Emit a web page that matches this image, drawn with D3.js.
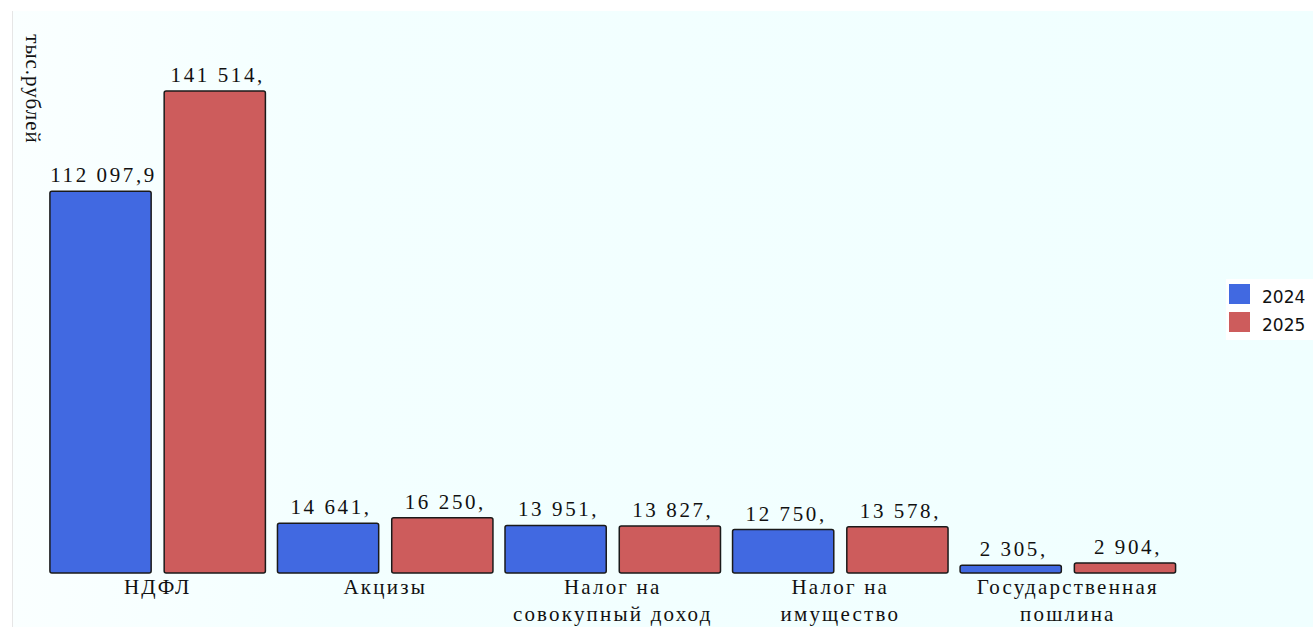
<!DOCTYPE html>
<html><head><meta charset="utf-8">
<script src="https://cdn.jsdelivr.net/npm/d3@7"></script>
<style>html,body{margin:0;padding:0;background:#fff;overflow:hidden}
.serif{font-family:"Liberation Serif","DejaVu Serif","Times New Roman",serif}</style>
</head><body>
<svg id="c" width="1313" height="627"></svg>
<script>
const categories = ["НДФЛ", "Акцизы", "Налог на совокупный доход", "Налог на имущество", "Государственная пошлина"];
const categoryLines = [["НДФЛ"], ["Акцизы"], ["Налог на", "совокупный доход"], ["Налог на", "имущество"], ["Государственная", "пошлина"]];
const seriesNames = ["2024", "2025"];
const values2024 = [112097.9, 14641, 13951, 12750, 2305];
const values2025 = [141514, 16250, 13827, 13578, 2904];
const labels2024 = ["112 097,9", "14 641,", "13 951,", "12 750,", "2 305,"];
const labels2025 = ["141 514,", "16 250,", "13 827,", "13 578,", "2 904,"];
const colors = ["#4169E1", "#CD5C5C"];

const svg = d3.select("#c");
const defs = svg.append("defs");
const grad = defs.append("linearGradient").attr("id","bg").attr("x1","0").attr("x2","1").attr("y1","0").attr("y2","0");
grad.append("stop").attr("offset","0").attr("stop-color","#FAFFFF");
grad.append("stop").attr("offset","0.25").attr("stop-color","#F3FFFF");
grad.append("stop").attr("offset","1").attr("stop-color","#F0FFFF");

svg.append("rect").attr("x",12).attr("y",11).attr("width",1301).attr("height",616).attr("fill","url(#bg)");
svg.append("line").attr("x1",12.5).attr("x2",12.5).attr("y1",11).attr("y2",627).attr("stroke","#e6e6e6").attr("stroke-width",1);

const x0 = d3.scaleBand().domain(categories).range([44, 1181.5]).paddingInner(0.053).paddingOuter(0.026);
const x1 = d3.scaleBand().domain(seriesNames).range([0, x0.bandwidth()]).paddingInner(0.114);
const y = d3.scaleLinear().domain([0, 165000]).range([573, 11]);

const data = categories.map((c,i)=>({cat:c, vals:[values2024[i], values2025[i]], labs:[labels2024[i], labels2025[i]]}));

const g = svg.append("g");
const groups = g.selectAll("g.grp").data(data).join("g").attr("class","grp")
  .attr("transform", d=>`translate(${x0(d.cat)},0)`);

groups.selectAll("rect").data(d=>d.vals.map((v,j)=>({v, s:seriesNames[j], j}))).join("rect")
  .attr("x", d=>x1(d.s)).attr("width", x1.bandwidth())
  .attr("y", d=>y(d.v)).attr("height", d=>y(0)-y(d.v))
  .attr("rx", 2).attr("fill", d=>colors[d.j])
  .attr("stroke", "#1a1a1a").attr("stroke-width", 1.5);

groups.selectAll("text.val").data(d=>d.vals.map((v,j)=>({v, s:seriesNames[j], lab:d.labs[j]}))).join("text")
  .attr("class","val serif")
  .attr("x", d=>x1(d.s)+x1.bandwidth()/2+3).attr("y", d=>y(d.v)-9)
  .attr("text-anchor","middle")
  .attr("font-size","21px").attr("letter-spacing","2.6px").attr("fill","#111")
  .text(d=>d.lab);

// category labels
const xAxis = d3.axisBottom(x0).tickSize(0).tickFormat("");
const ax = svg.append("g").attr("transform","translate(0,573)").call(xAxis);
ax.select(".domain").remove();
ax.attr("font-family",null).attr("font-size",null);
ax.selectAll(".tick").each(function(d,i){
  const t = d3.select(this).append("text").attr("class","serif").attr("fill","#111")
    .attr("text-anchor","middle")
    .attr("font-size","21px").attr("letter-spacing","2.2px");
  categoryLines[i].forEach((ln,k)=>{
    t.append("tspan").attr("x",0).attr("y", 21 + k*27).text(ln);
  });
});

// y axis title
svg.append("text").attr("class","serif").attr("transform","translate(26,89) rotate(90)")
  .attr("text-anchor","middle")
  .attr("font-size","21px").attr("letter-spacing","1px").attr("fill","#111").text("тыс.рублей");

// legend
const lg = svg.append("g");
lg.append("rect").attr("x",1226).attr("y",279).attr("width",87).attr("height",61).attr("fill","#fff");
seriesNames.forEach((s,i)=>{
  lg.append("rect").attr("x",1229).attr("y",284+i*28).attr("width",21).attr("height",20).attr("fill",colors[i]);
  lg.append("text").attr("x",1262).attr("y",303+i*28)
    .attr("font-family","'DejaVu Sans', Verdana, sans-serif").attr("font-size","17px").attr("fill","#111").text(s);
});
</script>
</body></html>
